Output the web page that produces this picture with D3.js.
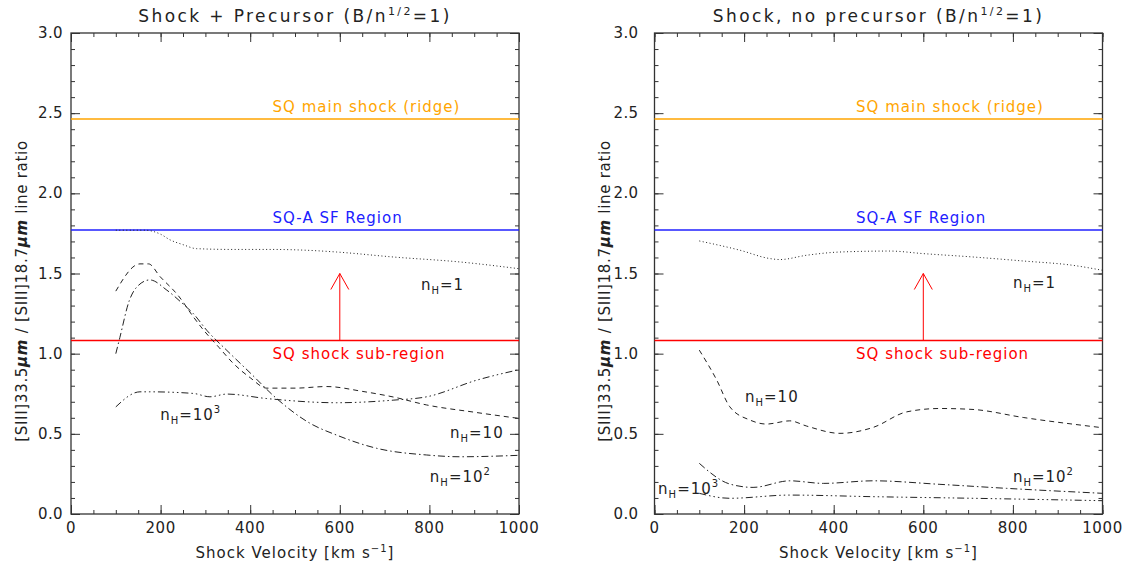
<!DOCTYPE html>
<html>
<head>
<meta charset="utf-8">
<script src="https://cdn.jsdelivr.net/npm/d3@7"></script>
<style>
  body { margin: 0; background: #fff; }
  text { font-family: "DejaVu Sans", sans-serif; fill: #222; }
</style>
</head>
<body>
<svg id="chart" width="1131" height="572"></svg>
<script>
// reference levels
const refLevels = [
	{ name: "SQ main shock (ridge)", value: 2.463, color: "#ffa500" },
	{ name: "SQ-A SF Region", value: 1.771, color: "#2020ff" },
	{ name: "SQ shock sub-region", value: 1.082, color: "#ff0000" }
];

// shock + precursor, [velocity, ratio]
const pre_n1 = [[100,1.77],[165,1.77],[200,1.745],[221,1.71],[250,1.68],[280,1.655],[362,1.65],[450,1.65],[526,1.645],[593,1.634],[719,1.603],[868,1.572],[1000,1.53]];
const pre_n10 = [[100,1.39],[154,1.56],[173,1.56],[199,1.48],[240,1.36],[273,1.23],[295,1.15],[330,1.04],[362,0.94],[400,0.85],[437,0.785],[500,0.785],[571,0.795],[650,0.765],[719,0.73],[794,0.68],[900,0.635],[1000,0.596]];
const pre_n100 = [[100,1.0],[109,1.10],[130,1.33],[147,1.416],[176,1.46],[214,1.396],[250,1.31],[273,1.25],[303,1.146],[348,1.02],[400,0.88],[459,0.72],[534,0.565],[593,0.492],[682,0.41],[794,0.368],[868,0.357],[1000,0.366]];
const pre_n1000 = [[100,0.668],[154,0.762],[176,0.762],[273,0.752],[310,0.731],[348,0.748],[437,0.72],[593,0.694],[719,0.71],[794,0.731],[906,0.835],[1000,0.90]];

// shock, no precursor
const nop_n1 = [[100,1.703],[191,1.645],[258,1.593],[280,1.587],[340,1.614],[414,1.634],[525,1.64],[600,1.624],[711,1.603],[823,1.578],[934,1.551],[1000,1.52]];
const nop_n10 = [[100,1.022],[139,0.835],[168,0.669],[213,0.586],[250,0.561],[302,0.581],[340,0.548],[414,0.503],[488,0.540],[563,0.637],[637,0.658],[711,0.652],[823,0.602],[1000,0.538]];
const nop_n100 = [[100,0.316],[168,0.187],[220,0.166],[302,0.207],[377,0.191],[488,0.207],[637,0.185],[786,0.16],[1000,0.129]];
const nop_n1000 = [[100,0.129],[168,0.098],[302,0.118],[488,0.108],[711,0.098],[1000,0.083]];

// density labels: exponent ("" for none), anchor in data coords
const pre_labels = [["1","",781,1.395],["10","",846,0.474],["10","2",801,0.2],["10","3",199,0.586]];
const nop_labels = [["1","",800,1.408],["10","",202,0.698],["10","2",800,0.2],["10","3",8,0.125]];

const xTicks = [0, 200, 400, 600, 800, 1000];
const yTicks = [0.0, 0.5, 1.0, 1.5, 2.0, 2.5, 3.0];

const dashes = ["1,2.5", "5,4", "7,3,1.5,3", "7,3,1.5,3,1.5,3,1.5,3"];

let svg = d3.select("#chart");

function panel(left, title, series, labels, tickGap, ylabX) {
	let x = d3.scaleLinear().domain([0, 1000]).range([left, left + 448]);
	let y = d3.scaleLinear().domain([0, 3]).range([514, 33]);
	let g = svg.append("g");
	let axcol = "#333";

	function axis(gen, tx, ty, vals, size) {
		let a = g.append("g").attr("transform", "translate(" + tx + "," + ty + ")")
			.call(gen.tickValues(vals).tickSize(size).tickFormat(""));
		a.select(".domain").remove();
		a.selectAll("line").attr("stroke", axcol);
	}
	let xMinor = d3.range(0, 1001, 50);
	let yMinor = d3.range(0, 3.001, 0.1);
	axis(d3.axisTop(x), 0, 514, xMinor, 4);
	axis(d3.axisTop(x), 0, 514, xTicks, 9);
	axis(d3.axisBottom(x), 0, 33, xMinor, 4);
	axis(d3.axisBottom(x), 0, 33, xTicks, 9);
	axis(d3.axisRight(y), left, 0, yMinor, 4);
	axis(d3.axisRight(y), left, 0, yTicks, 9);
	axis(d3.axisLeft(y), left + 448, 0, yMinor, 4);
	axis(d3.axisLeft(y), left + 448, 0, yTicks, 9);

	g.append("rect").attr("x", left).attr("y", 33).attr("width", 448).attr("height", 481)
		.attr("fill", "none").attr("stroke", axcol).attr("stroke-width", 1.3);

	g.selectAll(".xl").data(xTicks).enter().append("text")
		.attr("x", d => x(d)).attr("y", 533).attr("text-anchor", "middle")
		.attr("font-size", 15).attr("letter-spacing", 0.6).text(d => d);
	g.selectAll(".yl").data(yTicks).enter().append("text")
		.attr("x", left - tickGap).attr("y", d => y(d) + 5).attr("text-anchor", "end")
		.attr("font-size", 15).attr("letter-spacing", 0.4).text(d => d.toFixed(1));

	// reference levels
	refLevels.forEach(r => {
		g.append("line").attr("x1", x(0)).attr("x2", x(1000)).attr("y1", y(r.value)).attr("y2", y(r.value))
			.attr("stroke", r.color).attr("stroke-width", 1.5);
		g.append("text").attr("x", x(450)).attr("y", y(r.value) + (r.value > 1.5 ? -7 : 18))
			.attr("font-size", 15).attr("letter-spacing", 1).style("fill", r.color).text(r.name);
	});

	// arrow
	let ac = "#ff0000";
	g.append("line").attr("x1", x(600)).attr("x2", x(600)).attr("y1", y(1.082)).attr("y2", y(1.5)).attr("stroke", ac);
	g.append("path").attr("d", "M" + (x(600) - 9) + "," + (y(1.5) + 16) + "L" + x(600) + "," + y(1.5) + "L" + (x(600) + 9) + "," + (y(1.5) + 16))
		.attr("fill", "none").attr("stroke", ac);

	let line = d3.line().x(d => x(d[0])).y(d => y(d[1])).curve(d3.curveMonotoneX);
	series.forEach((s, i) => {
		g.append("path").attr("d", line(s)).attr("fill", "none")
			.attr("stroke", "#222").attr("stroke-width", 1).attr("stroke-dasharray", dashes[i]);
	});

	labels.forEach(l => {
		let t = g.append("text").attr("x", x(l[2])).attr("y", y(l[3])).attr("font-size", 15).attr("letter-spacing", 1);
		t.append("tspan").text("n");
		t.append("tspan").attr("font-size", 10).attr("dy", 4).text("H");
		t.append("tspan").attr("dy", -4).text("=" + l[0]);
		if (l[1]) t.append("tspan").attr("font-size", 10).attr("dy", -7).text(l[1]);
	});

	let tt = g.append("text").attr("x", x(500)).attr("y", 22).attr("text-anchor", "middle")
		.attr("font-size", 17).attr("letter-spacing", 2.4);
	tt.append("tspan").text(title + " (B/n");
	tt.append("tspan").attr("font-size", 11).attr("dy", -7).text("1/2");
	tt.append("tspan").attr("dy", 7).text("=1)");

	let xl = g.append("text").attr("x", x(500)).attr("y", 558).attr("text-anchor", "middle")
		.attr("font-size", 15).attr("letter-spacing", 1);
	xl.append("tspan").text("Shock Velocity [km s");
	xl.append("tspan").attr("font-size", 10).attr("dy", -6).text("−1");
	xl.append("tspan").attr("dy", 6).text("]");

	let yl = g.append("text").attr("transform", "translate(" + ylabX + ",291) rotate(-90)")
		.attr("text-anchor", "middle").attr("font-size", 15).attr("letter-spacing", 0.7);
	yl.append("tspan").text("[SIII]33.5");
	yl.append("tspan").attr("font-style", "italic").attr("font-weight", "bold").text("μm");
	yl.append("tspan").text(" / [SIII]18.7");
	yl.append("tspan").attr("font-style", "italic").attr("font-weight", "bold").text("μm");
	yl.append("tspan").text(" line ratio");
}

panel(71, "Shock + Precursor", [pre_n1, pre_n10, pre_n100, pre_n1000], pre_labels, 8, 27);
panel(654.5, "Shock, no precursor", [nop_n1, nop_n10, nop_n100, nop_n1000], nop_labels, 16, 610);
</script>
</body>
</html>
